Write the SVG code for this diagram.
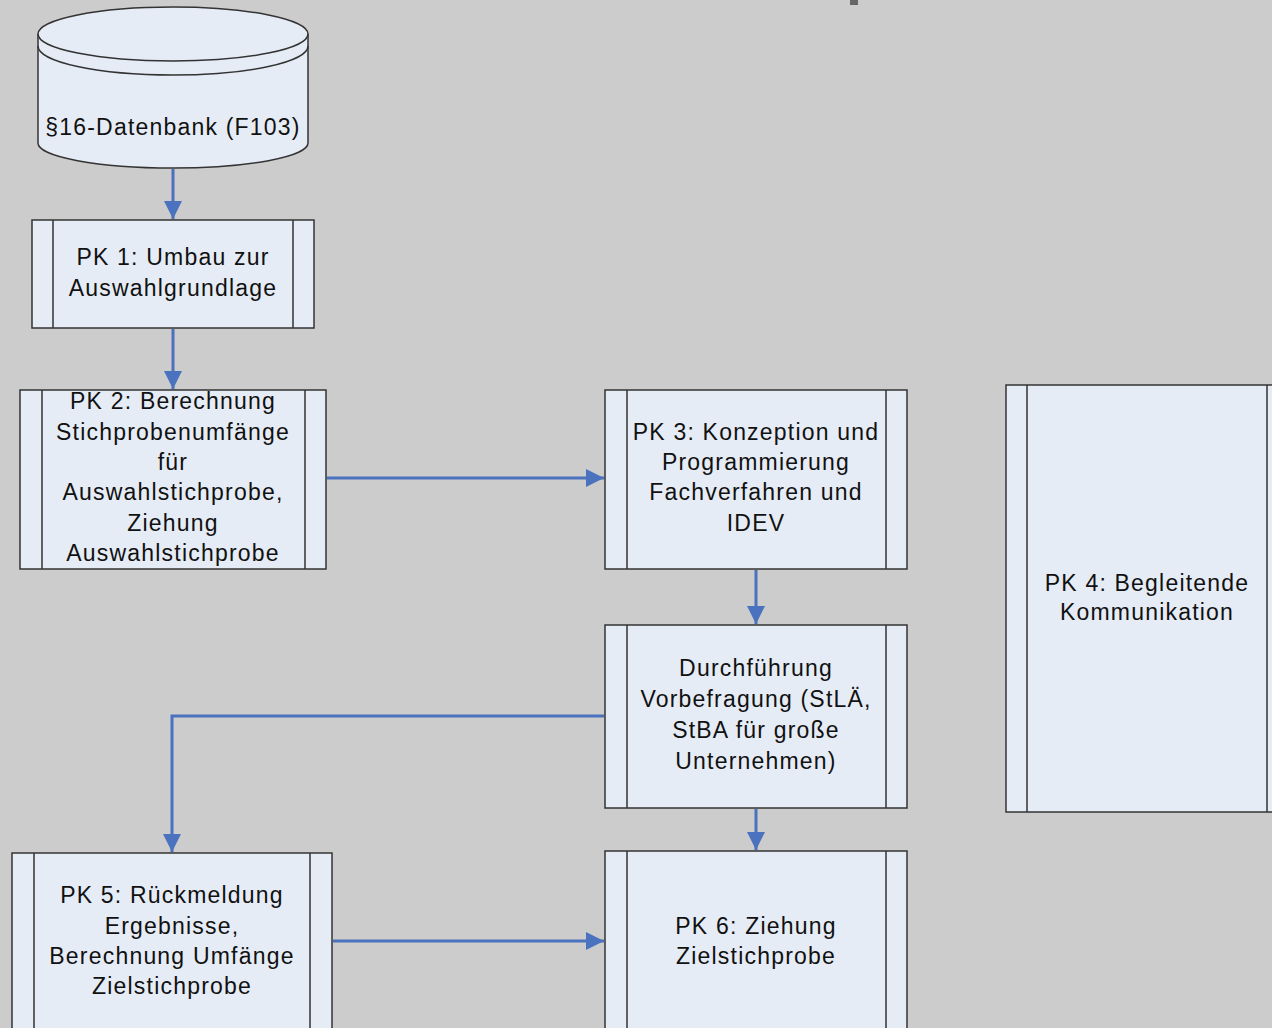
<svg xmlns="http://www.w3.org/2000/svg" width="1272" height="1028" viewBox="0 0 1272 1028">
<style>
.box{fill:#e6ecf6;stroke:#333;stroke-width:1.5}
.ln{fill:none;stroke:#333;stroke-width:1.5}
.t{font-family:"Liberation Sans",Arial,sans-serif;font-size:23px;letter-spacing:1.2px;fill:#111;text-anchor:middle}
.c{fill:none;stroke:#4a72bf;stroke-width:3}
</style>
<defs>
<marker id="ah" markerUnits="userSpaceOnUse" markerWidth="20" markerHeight="20" viewBox="0 0 20 20" refX="18" refY="10" orient="auto">
<path d="M0,1 L18,10 L0,19 Z" fill="#4a72bf"/>
</marker>
</defs>
<rect width="1272" height="1028" fill="#cccccc"/>
<rect x="850" y="0" width="8" height="5" fill="#666"/>

<g id="db">
<path class="box" d="M38,34 L38,143 A135,25 0 0 0 308,143 L308,34 A135,27 0 0 0 38,34 Z"/>
<path class="ln" d="M38,34 A135,27 0 0 0 308,34"/>
<path class="ln" d="M38,46 A135,29 0 0 0 308,46"/>
<text class="t" x="173" y="135">§16-Datenbank (F103)</text>
</g>

<g id="pk1">
<rect class="box" x="32" y="220" width="282" height="108"/>
<path class="ln" d="M53,220V328M293,220V328"/>
<text class="t" x="173" y="265">PK 1: Umbau zur</text>
<text class="t" x="173" y="296">Auswahlgrundlage</text>
</g>

<g id="pk2">
<rect class="box" x="20" y="390" width="306" height="179"/>
<path class="ln" d="M42,390V569M305,390V569"/>
<text class="t" x="173" y="409">PK 2: Berechnung</text>
<text class="t" x="173" y="440">Stichprobenumfänge</text>
<text class="t" x="173" y="470">für</text>
<text class="t" x="173" y="500">Auswahlstichprobe,</text>
<text class="t" x="173" y="531">Ziehung</text>
<text class="t" x="173" y="561">Auswahlstichprobe</text>
</g>

<g id="pk3">
<rect class="box" x="605" y="390" width="302" height="179"/>
<path class="ln" d="M627,390V569M886,390V569"/>
<text class="t" x="756" y="440">PK 3: Konzeption und</text>
<text class="t" x="756" y="470">Programmierung</text>
<text class="t" x="756" y="500">Fachverfahren und</text>
<text class="t" x="756" y="531">IDEV</text>
</g>

<g id="vorbefragung">
<rect class="box" x="605" y="625" width="302" height="183"/>
<path class="ln" d="M627,625V808M886,625V808"/>
<text class="t" x="756" y="676">Durchführung</text>
<text class="t" x="756" y="707">Vorbefragung (StLÄ,</text>
<text class="t" x="756" y="738">StBA für große</text>
<text class="t" x="756" y="769">Unternehmen)</text>
</g>

<g id="pk4">
<rect class="box" x="1006" y="385" width="280" height="427"/>
<path class="ln" d="M1027,385V812M1267,385V812"/>
<text class="t" x="1147" y="591">PK 4: Begleitende</text>
<text class="t" x="1147" y="620">Kommunikation</text>
</g>

<g id="pk5">
<rect class="box" x="12" y="853" width="320" height="190"/>
<path class="ln" d="M34,853V1043M310,853V1043"/>
<text class="t" x="172" y="903">PK 5: Rückmeldung</text>
<text class="t" x="172" y="934">Ergebnisse,</text>
<text class="t" x="172" y="964">Berechnung Umfänge</text>
<text class="t" x="172" y="994">Zielstichprobe</text>
</g>

<g id="pk6">
<rect class="box" x="605" y="851" width="302" height="192"/>
<path class="ln" d="M627,851V1043M886,851V1043"/>
<text class="t" x="756" y="934">PK 6: Ziehung</text>
<text class="t" x="756" y="964">Zielstichprobe</text>
</g>

<g id="connectors">
<path class="c" d="M173,169V219" marker-end="url(#ah)"/>
<path class="c" d="M173,329V389" marker-end="url(#ah)"/>
<path class="c" d="M327,478H604" marker-end="url(#ah)"/>
<path class="c" d="M756,570V624" marker-end="url(#ah)"/>
<path class="c" d="M604,716H172V852" marker-end="url(#ah)"/>
<path class="c" d="M756,809V850" marker-end="url(#ah)"/>
<path class="c" d="M333,941H604" marker-end="url(#ah)"/>
</g>
</svg>
